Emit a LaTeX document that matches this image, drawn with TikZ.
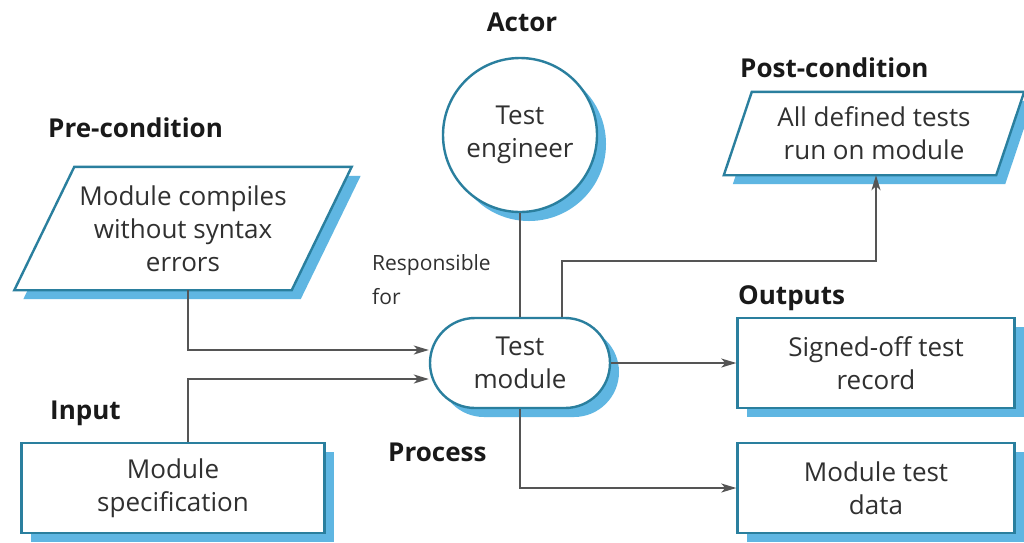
\documentclass[tikz,border=0pt]{standalone}
\usepackage{fontspec}
\setmainfont{Open Sans}
\usetikzlibrary{arrows.meta,shadows,shapes.misc,calc,backgrounds}
\definecolor{edgeblue}{HTML}{2A7F9E}
\definecolor{shadowblue}{HTML}{5FB6E2}
\definecolor{txtgray}{HTML}{303030}
\definecolor{linegray}{HTML}{555555}
\begin{document}
\begin{tikzpicture}[x=1pt,y=-1pt,
  every node/.style={text=txtgray, font=\fontsize{26}{33}\selectfont},
  lbl/.style={font=\fontsize{26}{30}\selectfont\bfseries, text=black!90, anchor=west, inner sep=0pt},
  bluebox/.style={draw=edgeblue, line width=2.4pt, fill=white, align=center, inner sep=0pt,
    drop shadow={shadow xshift=9pt,shadow yshift=-9pt,fill=shadowblue,opacity=1}},
  slantbox/.style={align=center, inner sep=0pt},
  pgram/.style={draw=edgeblue, line width=2.4pt, fill=white},
  conn/.style={draw=linegray, line width=1.4pt},
  arr/.style={conn, -{Stealth[length=15pt,width=9pt,inset=4pt]}}]
\begin{scope}[on background layer]
  \fill[white] (0,0) rectangle (1024,542);
\end{scope}
\path[use as bounding box] (0,0) rectangle (1024,542);

% labels
\node[lbl, anchor=center] (actorlbl) at (522,22) {Actor};
\node[lbl] (prelbl) at (48,128) {Pre-condition};
\node[lbl] (postlbl) at (740,68) {Post-condition};
\node[lbl] (outlbl) at (738,298) {Outputs};
\node[lbl] (inlbl) at (50,413) {Input};
\node[lbl] (proclbl) at (388,452) {Process};
\node[align=left, anchor=west, inner sep=0pt, font=\fontsize{21}{34}\selectfont] (resp) at (372,280) {Responsible\\for};

% actor
\node[bluebox, circle, minimum size=154pt] (eng) at (520,135) {Test\\engineer};

% pre-condition (parallelogram)
\node[slantbox, minimum width=277pt, minimum height=123pt] (pre) at (183,228.5) {Module compiles\\without syntax\\errors};
\begin{scope}[on background layer]
  \fill[shadowblue] ($(pre.north west)+(39,9)$) -- ($(pre.north east)+(39,9)$) -- ($(pre.south east)+(-21,9)$) -- ($(pre.south west)+(-21,9)$) -- cycle;
  \path[pgram] ($(pre.north west)+(30,0)$) -- ($(pre.north east)+(30,0)$) -- ($(pre.south east)+(-30,0)$) -- ($(pre.south west)+(-30,0)$) -- cycle;
\end{scope}

% post-condition (parallelogram)
\node[slantbox, minimum width=272pt, minimum height=83pt] (post) at (874,133.5) {All defined tests\\run on module};
\begin{scope}[on background layer]
  \fill[shadowblue] ($(post.north west)+(23,9)$) -- ($(post.north east)+(23,9)$) -- ($(post.south east)+(-5,9)$) -- ($(post.south west)+(-5,9)$) -- cycle;
  \path[pgram] ($(post.north west)+(14,0)$) -- ($(post.north east)+(14,0)$) -- ($(post.south east)+(-14,0)$) -- ($(post.south west)+(-14,0)$) -- cycle;
\end{scope}

% process
\node[bluebox, rounded rectangle, minimum width=180pt, minimum height=90pt] (tm) at (520,363) {Test\\module};

% outputs and input
\node[bluebox, minimum width=277pt, minimum height=90pt] (out1) at (876,363) {Signed-off test\\record};
\node[bluebox, minimum width=277pt, minimum height=90pt] (out2) at (876,488) {Module test\\data};
\node[bluebox, minimum width=303pt, minimum height=90pt] (inp) at (173,488) {Module\\specification};

% connectors
\draw[conn] (eng.south) -- (tm.north);
\draw[arr] ([xshift=5pt]pre.south) |- ([yshift=13pt]tm.west);
\draw[arr] ([xshift=15pt]inp.north) |- ([yshift=-16pt]tm.west);
\draw[arr] ([xshift=42pt]tm.north) -- ++(0,-56) -| ([xshift=2pt]post.south);
\draw[arr] (tm.east) -- (out1.west);
\draw[arr] (tm.south) |- (out2.west);
\end{tikzpicture}
\end{document}
